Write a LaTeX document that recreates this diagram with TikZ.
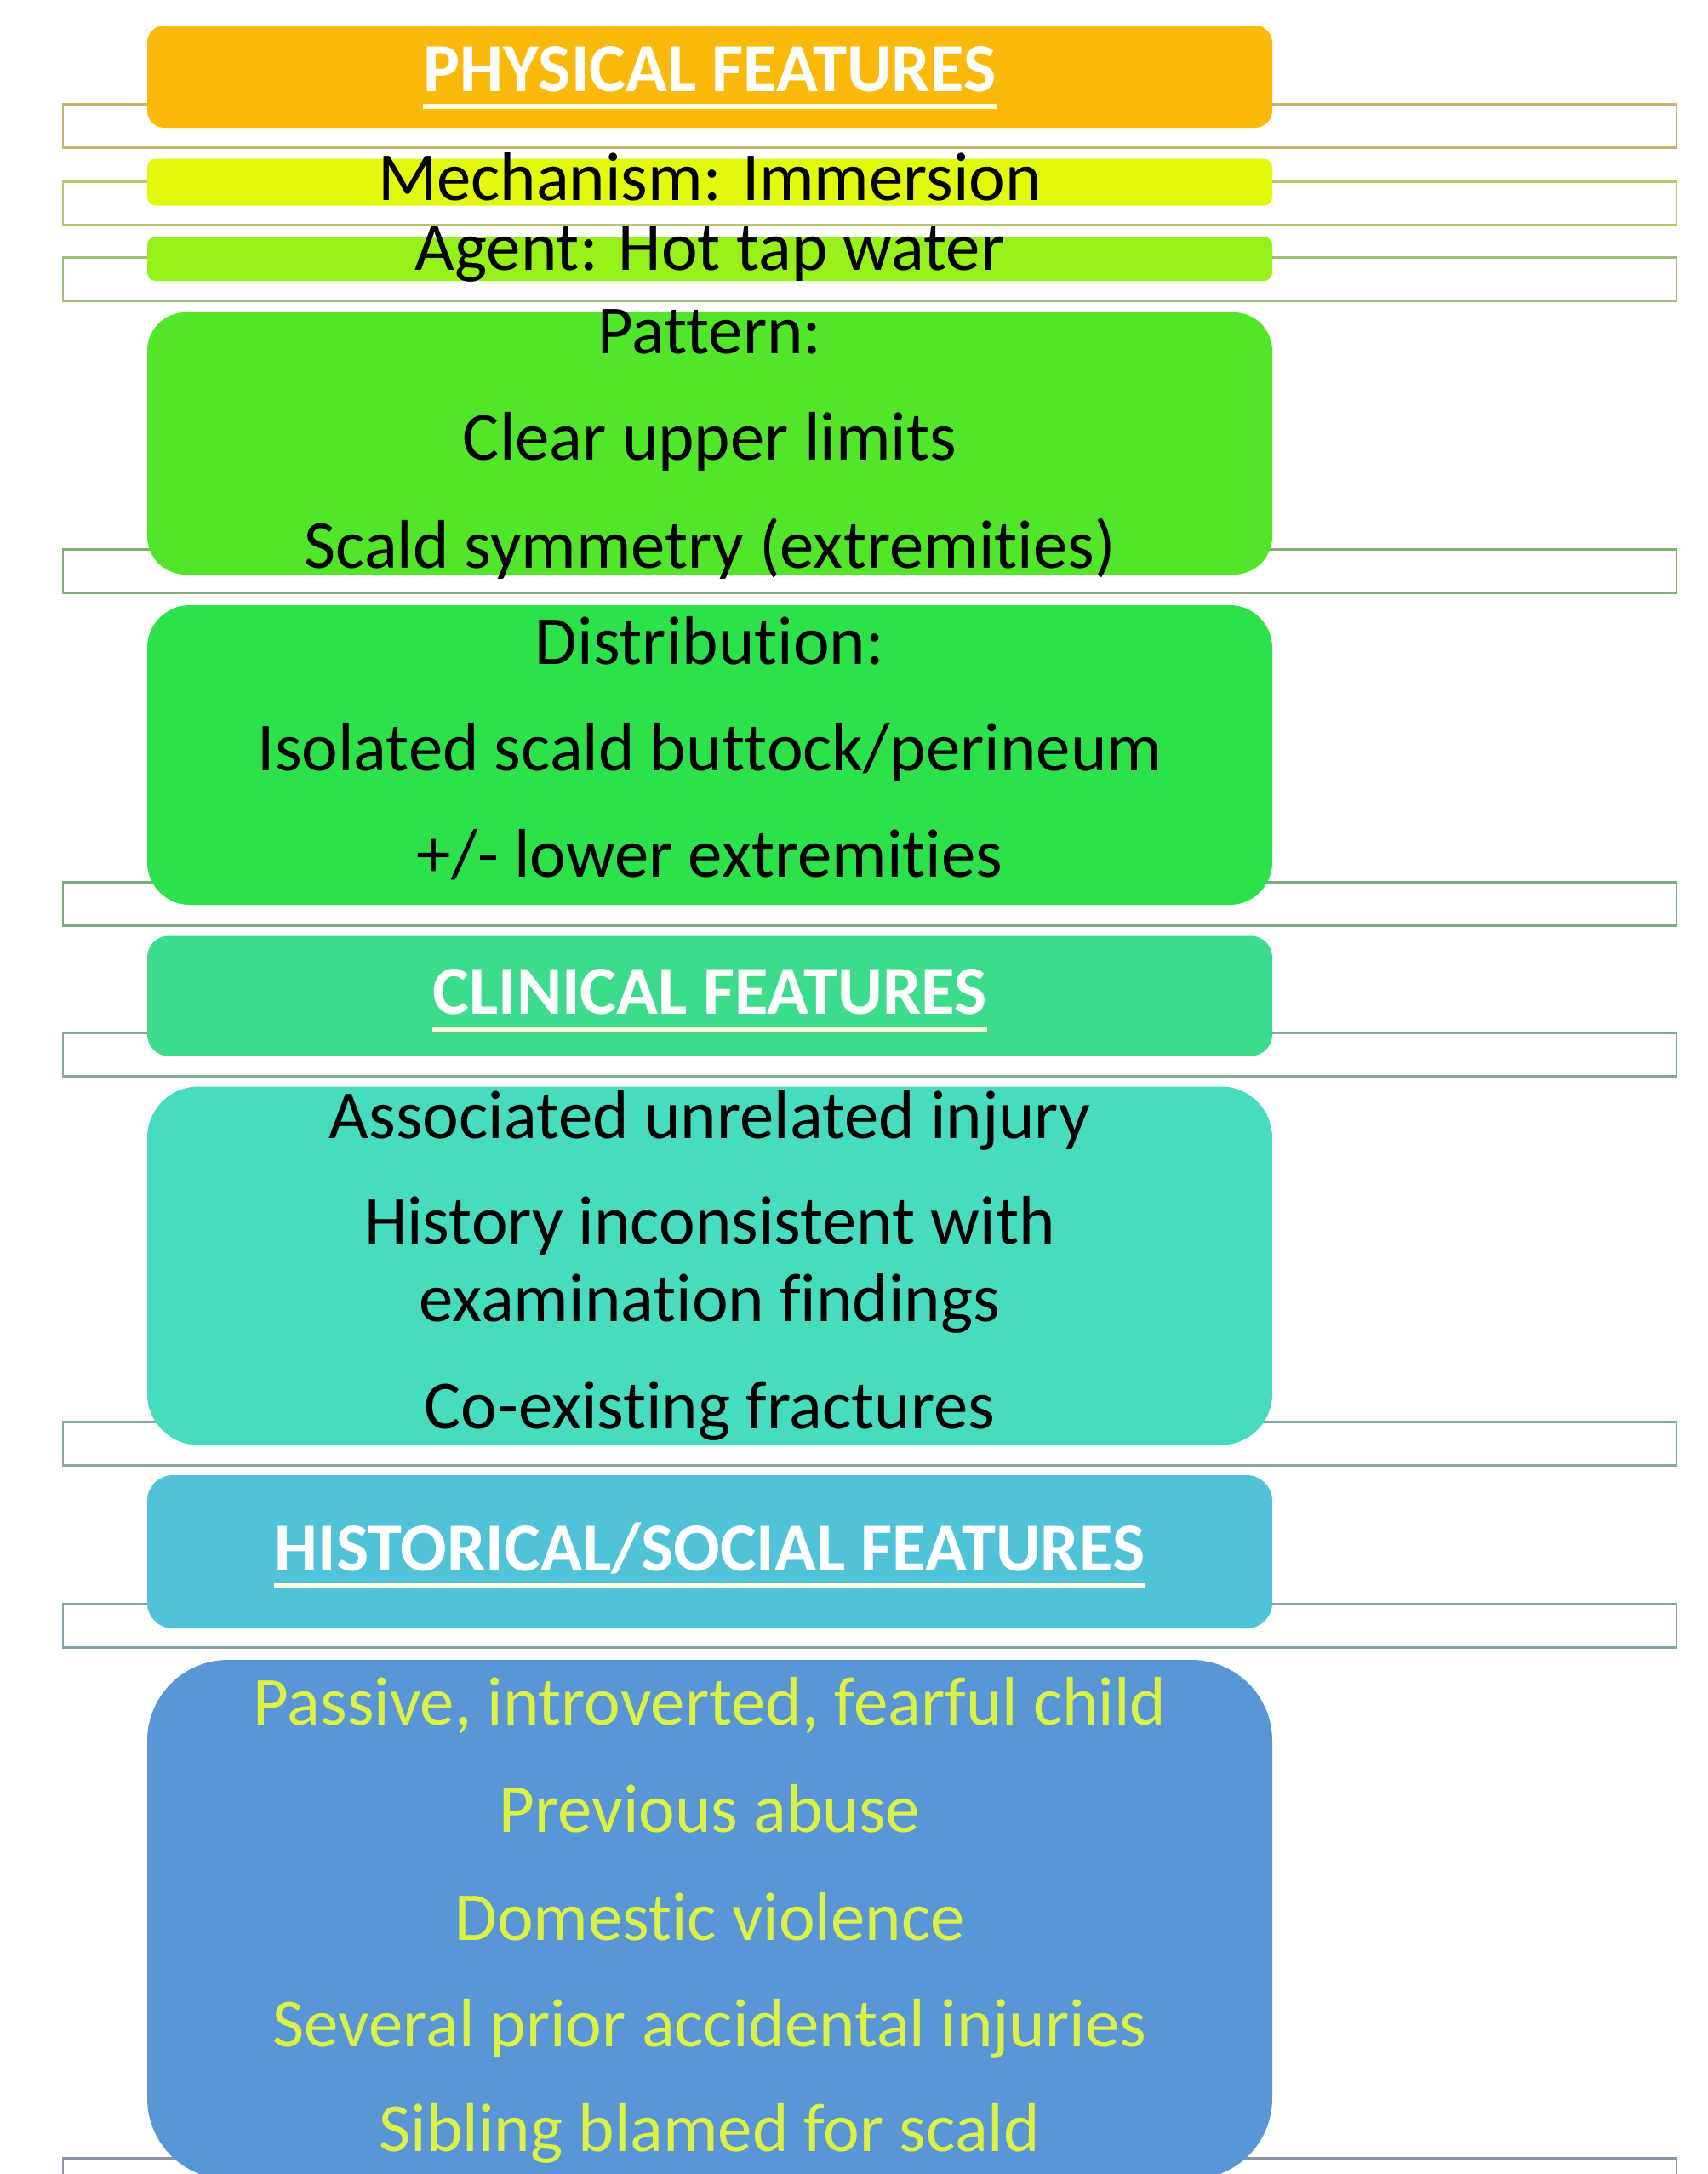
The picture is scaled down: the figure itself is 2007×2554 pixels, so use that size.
\documentclass[tikz,border=0pt]{standalone}
\usepackage{fontspec}
\setmainfont[Ligatures=NoCommon]{Carlito}
\definecolor{physcol}{HTML}{FBBA0B}
\definecolor{mechcol}{HTML}{E2F80C}
\definecolor{agentcol}{HTML}{96F01A}
\definecolor{pattcol}{HTML}{52E62A}
\definecolor{distcol}{HTML}{2DE14B}
\definecolor{cliniccol}{HTML}{3DDC8C}
\definecolor{assoccol}{HTML}{48DCBE}
\definecolor{histcol}{HTML}{50C3D8}
\definecolor{socialcol}{HTML}{5896D6}
\definecolor{socialtext}{HTML}{DDF046}
\begin{document}
\begin{tikzpicture}[x=0.1mm,y=-0.1mm,
  box/.style={rounded corners=#1, minimum width=13.22cm, inner sep=0pt},
  frame/.style={draw=#1, line width=0.8pt, minimum width=18.96cm, minimum height=5.1mm, inner sep=0pt},
  line/.style={anchor=base, inner sep=0pt, font=\fontsize{23}{28}\selectfont},
  head/.style={line, text=white, font=\fontsize{23}{28}\selectfont\bfseries},
  uline/.style={draw=white!85!yellow, line width=1.6pt}]
\useasboundingbox (0,0) rectangle (2007,2554);
\clip (0,0) rectangle (2007,2554);
% frames behind the boxes
\node [frame=mechcol!35!physcol!45!gray!80] (f1) at (1022,148) {};
\node [frame=mechcol!45!gray!80] (f2) at (1022,239) {};
\node [frame=agentcol!40!gray!80] (f3) at (1022,328) {};
\node [frame=pattcol!30!gray!85] (f4) at (1022,671) {};
\node [frame=distcol!30!gray!85] (f5) at (1022,1062) {};
\node [frame=cliniccol!30!gray!85] (f6) at (1022,1239) {};
\node [frame=assoccol!30!gray!85] (f7) at (1022,1696) {};
\node [frame=histcol!30!gray!85] (f8) at (1022,1910) {};
\node [frame=socialcol!25!gray!85] (f9) at (1022,2561) {};
% boxes
\node [box=2mm, fill=physcol, minimum height=1.2cm] (phys) at (834,90) {};
\node [box=1mm, fill=mechcol, minimum height=5.5mm] (mech) at (834,214) {};
\node [box=1mm, fill=agentcol, minimum height=5.2mm] (agent) at (834,304) {};
\node [box=4.5mm, fill=pattcol, minimum height=3.08cm] (patt) at (834,521) {};
\node [box=5mm, fill=distcol, minimum height=3.52cm] (dist) at (834,887) {};
\node [box=2.5mm, fill=cliniccol, minimum height=1.41cm] (clinic) at (834,1170) {};
\node [box=6mm, fill=assoccol, minimum height=4.21cm] (assoc) at (834,1487) {};
\node [box=3mm, fill=histcol, minimum height=1.8cm] (hist) at (834,1823) {};
\node [box=9.5mm, fill=socialcol, minimum height=6.1cm] (social) at (834,2255) {};
% texts
\node [head] (physT) at (834,107) {PHYSICAL FEATURES};
\draw [uline] ([yshift=-1.8mm]physT.base west) -- ([yshift=-1.8mm]physT.base east);
\node [line] (mechT) at (834,235) {Mechanism: Immersion};
\node [line] (agentT) at (834,317) {Agent: Hot tap water};
\node [line] (patt1) at (834,415) {Pattern:};
\node [line] (patt2) at (834,540) {Clear upper limits};
\node [line] (patt3) at (834,667) {Scald symmetry (extremities)};
\node [line] (dist1) at (834,780) {Distribution:};
\node [line] (dist2) at (834,905) {Isolated scald buttock/perineum};
\node [line] (dist3) at (834,1030) {+/- lower extremities};
\node [head] (clinicT) at (834,1191) {CLINICAL FEATURES};
\draw [uline] ([yshift=-1.8mm]clinicT.base west) -- ([yshift=-1.8mm]clinicT.base east);
\node [line] (assoc1) at (834,1337) {Associated unrelated injury};
\node [line] (assoc2) at (834,1461) {History inconsistent with};
\node [line] (assoc3) at (834,1552) {examination findings};
\node [line] (assoc4) at (834,1678) {Co-existing fractures};
\node [head] (histT) at (834,1845) {HISTORICAL/SOCIAL FEATURES};
\draw [uline] ([yshift=-1.8mm]histT.base west) -- ([yshift=-1.8mm]histT.base east);
\node [line, text=socialtext] (soc1) at (834,2026) {Passive, introverted, fearful child};
\node [line, text=socialtext] (soc2) at (834,2152) {Previous abuse};
\node [line, text=socialtext] (soc3) at (834,2279) {Domestic violence};
\node [line, text=socialtext] (soc4) at (834,2404) {Several prior accidental injuries};
\node [line, text=socialtext] (soc5) at (834,2527) {Sibling blamed for scald};
\end{tikzpicture}
\end{document}
